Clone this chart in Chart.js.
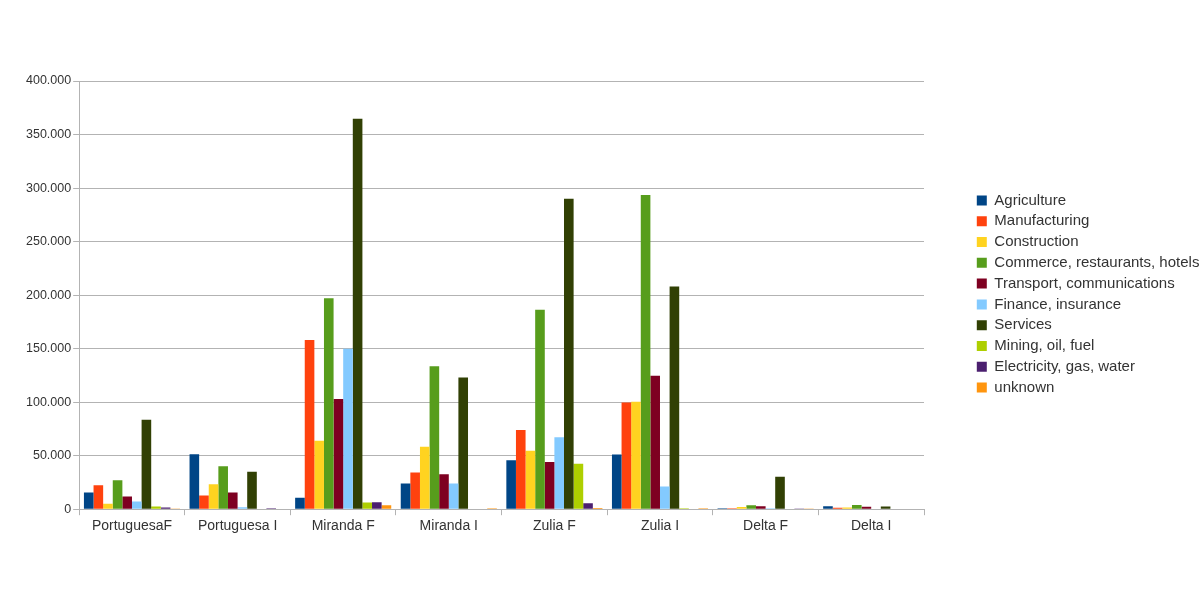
<!DOCTYPE html>
<html>
<head>
<meta charset="utf-8">
<script src="https://cdn.jsdelivr.net/npm/chart.js@4/dist/chart.umd.min.js"></script>
<style>
  body { margin: 0; background: #fff; }
</style>
</head>
<body>
<canvas id="chart" width="1200" height="600"></canvas>
<script>
const categories = ["PortuguesaF", "Portuguesa I", "Miranda F", "Miranda I", "Zulia F", "Zulia I", "Delta F", "Delta I"];

const agriculture = [15600, 51400, 10600, 24000, 45800, 51100, 1000, 2800];
const manufacturing = [22400, 12800, 158000, 34300, 74100, 99700, 1000, 1300];
const construction = [5000, 23400, 63900, 58300, 54500, 100300, 2000, 1600];
const commerce = [27000, 40200, 197000, 133600, 186300, 293500, 3700, 4000];
const transport = [11800, 15600, 103000, 32700, 44200, 124600, 2800, 2200];
const finance = [7200, 1900, 150000, 24000, 67300, 21200, 1000, 0];
const services = [83500, 34900, 364800, 123000, 290000, 208000, 30200, 2500];
const mining = [2500, 0, 6200, 0, 42400, 1000, 500, 0];
const electricity = [1500, 900, 6500, 0, 5600, 0, 300, 0];
const unknown = [300, 0, 3700, 800, 1200, 1000, 300, 0];

const yTicks = [0, 50000, 100000, 150000, 200000, 250000, 300000, 350000, 400000];

const gridColor = "#b3b3b3";
const textColor = "#333333";

function series(label, data, color) {
  return { label: label, data: data, backgroundColor: color, borderWidth: 0 };
}

// keep the legend where the original has it, plot area ends at x=924
const legendPlace = {
  id: "legendPlace",
  beforeLayout(chart) {
    const lg = chart.legend;
    if (lg && !lg._patched) {
      const fit = lg.fit;
      lg.fit = function () {
        fit.call(this);
        this.width = 276;
      };
      lg._patched = true;
    }
  },
  afterLayout(chart) {
    const lg = chart.legend;
    lg.left = 971;
    lg.right = 1200;
    lg.top -= 15.5;
    lg.bottom -= 15.5;
  }
};

const ctx = document.getElementById("chart");

new Chart(ctx, {
  type: "bar",
  data: {
    labels: categories,
    datasets: [
      series("Agriculture", agriculture, "#004586"),
      series("Manufacturing", manufacturing, "#ff420e"),
      series("Construction", construction, "#ffd320"),
      series("Commerce, restaurants, hotels", commerce, "#579d1c"),
      series("Transport, communications", transport, "#7e0021"),
      series("Finance, insurance", finance, "#83caff"),
      series("Services", services, "#314004"),
      series("Mining, oil, fuel", mining, "#aecf00"),
      series("Electricity, gas, water", electricity, "#4b1f6f"),
      series("unknown", unknown, "#ff950e")
    ]
  },
  options: {
    responsive: false,
    animation: false,
    layout: { padding: { left: 24, top: 81, right: 0, bottom: 62 } },
    datasets: { bar: { barPercentage: 1, categoryPercentage: 0.91 } },
    plugins: {
      legend: {
        position: "right",
        labels: {
          boxWidth: 10,
          boxHeight: 10,
          padding: 5.8,
          color: textColor,
          font: { family: "Liberation Sans", size: 15 }
        }
      },
      tooltip: { enabled: false }
    },
    scales: {
      x: {
        grid: {
          offset: true,
          color: (c) => (c.index === 0 || c.index === categories.length) ? gridColor : "rgba(0,0,0,0)",
          tickColor: gridColor,
          tickLength: 6
        },
        border: { color: gridColor },
        ticks: {
          color: textColor,
          padding: 3,
          maxRotation: 0,
          font: { family: "Liberation Sans", size: 14 }
        }
      },
      y: {
        min: yTicks[0],
        max: yTicks[yTicks.length - 1],
        afterBuildTicks: (axis) => { axis.ticks = yTicks.map(v => ({ value: v })); },
        grid: { color: gridColor, tickColor: gridColor, tickLength: 6 },
        border: { color: gridColor },
        ticks: {
          color: textColor,
          padding: 2,
          font: { family: "Liberation Sans", size: 12.5 },
          callback: (v) => v.toLocaleString("de-DE")
        }
      }
    }
  },
  plugins: [legendPlace]
});
</script>
</body>
</html>
